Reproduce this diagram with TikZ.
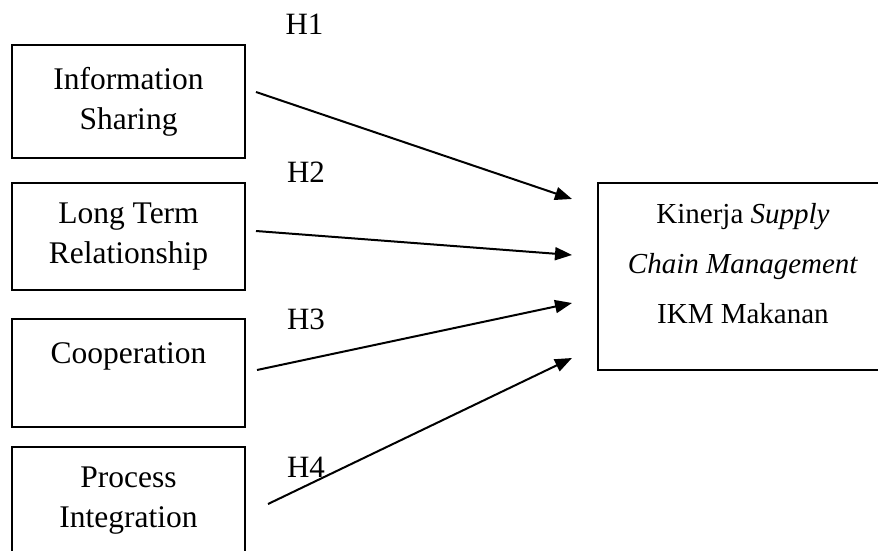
\documentclass[tikz,border=0pt]{standalone}
\usepackage{fontspec}
\setmainfont{Liberation Serif}
\usetikzlibrary{arrows.meta}

\begin{document}
\begin{tikzpicture}[x=1pt, y=-1pt,
        box/.style ={draw, line width=2pt, rectangle, align=center, inner sep=0pt,
                     minimum width=233pt, font=\fontsize{31.5}{40}\selectfont},
        arr/.style ={draw, line width=2pt, -{Triangle[length=17pt,width=13pt]}},
        hyp/.style ={font=\fontsize{31}{36}\selectfont},
    ]
\clip (0,0) rectangle (878,551);

% Nodes

\node (is) [box, minimum height=113pt] at (128.5,101.5) {Information\\Sharing};
\node (ltr) [box, minimum height=107pt] at (128.5,236.5) {Long Term\\Relationship};
\node (coop) [box, minimum height=108pt] at (128.5,373) {Cooperation\\ \mbox{}};
\node (pi) [box, minimum height=108pt] at (128.5,501) {Process\\Integration};
\node (kinerja) [box, minimum width=290pt, minimum height=187pt,
                 font=\fontsize{29}{50}\selectfont] at (743,276.5)
    {Kinerja \textit{Supply}\\\textit{Chain Management}\\IKM Makanan\\[-23pt]\mbox{}};

\node (h1) [hyp] at (304.5,24) {H1};
\node (h2) [hyp] at (306,172) {H2};
\node (h3) [hyp] at (306,319) {H3};
\node (h4) [hyp] at (306,467.5) {H4};

% Arrows
\draw[arr] ([xshift=10pt,yshift=9.5pt]is.east) -- ([xshift=-25pt,yshift=77.5pt]kinerja.west);
\draw[arr] ([xshift=10pt,yshift=5.5pt]ltr.east) -- ([xshift=-25pt,yshift=21.5pt]kinerja.west);
\draw[arr] ([xshift=11pt,yshift=3pt]coop.east) -- ([xshift=-25pt,yshift=-26.5pt]kinerja.west);
\draw[arr] ([xshift=22pt,yshift=-3pt]pi.east) -- ([xshift=-25pt,yshift=-81.5pt]kinerja.west);

\end{tikzpicture}
\end{document}
